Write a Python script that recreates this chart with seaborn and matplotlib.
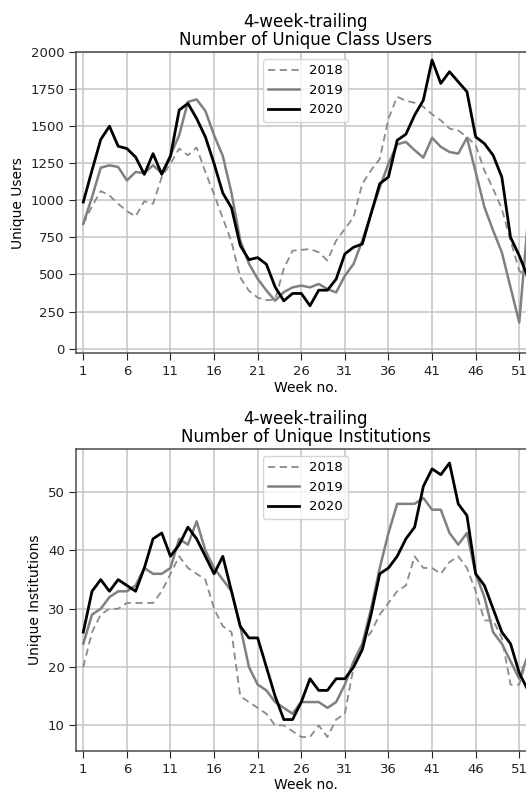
import numpy as np
import pandas as pd
import matplotlib
matplotlib.use("Agg")
import matplotlib.pyplot as plt
import seaborn as sns

weeks = list(range(1, 53))

# unique class users (4-week trailing)
users_2018 = [842, 960, 1063, 1034, 977, 928, 892, 995, 977, 1158,
              1249, 1350, 1305, 1357, 1192, 1040, 880, 720, 480, 390,
              344, 327, 330, 540, 661, 666, 672, 650, 594, 729,
              808, 887, 1113, 1203, 1280, 1553, 1700, 1673, 1659, 1632,
              1582, 1541, 1485, 1473, 1428, 1373, 1203, 1079, 943, 729,
              526, 480]
users_2019 = [842, 1022, 1221, 1237, 1226, 1135, 1192, 1185, 1237, 1185,
              1305, 1440, 1666, 1682, 1605, 1440, 1300, 1050, 730, 573,
              471, 392, 323, 381, 413, 425, 413, 436, 402, 379,
              492, 571, 729, 910, 1087, 1249, 1379, 1395, 1339, 1289,
              1423, 1362, 1327, 1316, 1423, 1192, 955, 797, 650, 413,
              176, 870]
users_2020 = [989, 1203, 1411, 1501, 1366, 1350, 1293, 1176, 1316, 1176,
              1298, 1610, 1655, 1553, 1429, 1249, 1050, 950, 696, 600,
              614, 569, 416, 322, 372, 372, 289, 394, 394, 469,
              639, 684, 706, 910, 1113, 1158, 1406, 1447, 1576, 1677,
              1948, 1790, 1869, 1801, 1734, 1429, 1384, 1305, 1158, 751,
              627, 480]

# unique institutions (4-week trailing)
inst_2018 = [20, 26, 29, 30, 30, 31, 31, 31, 31, 33,
             36, 39, 37, 36, 35, 30, 27, 26, 15, 14,
             13, 12, 10, 10, 9, 8, 8, 10, 8, 11,
             12, 20, 24, 26, 29, 31, 33, 34, 39, 37,
             37, 36, 38, 39, 37, 33, 28, 28, 25, 17,
             17, 22]
inst_2019 = [24, 29, 30, 32, 33, 33, 34, 37, 36, 36,
             37, 42, 41, 45, 40, 37, 35, 33, 27, 20,
             17, 16, 14, 13, 12, 14, 14, 14, 13, 14,
             17, 21, 24, 30, 37, 43, 48, 48, 48, 49,
             47, 47, 43, 41, 43, 36, 32, 26, 24, 21,
             18, 22]
inst_2020 = [26, 33, 35, 33, 35, 34, 33, 37, 42, 43,
             39, 41, 44, 42, 39, 36, 39, 33, 27, 25,
             25, 20, 15, 11, 11, 14, 18, 16, 16, 18,
             18, 20, 23, 29, 36, 37, 39, 42, 44, 51,
             54, 53, 55, 48, 46, 36, 34, 30, 26, 24,
             19, 16]

years = ['2018', '2019', '2020']
colors = {'2018': '#8a8a8a', '2019': '#808080', '2020': '#000000'}
styles = {'2018': (0, (4, 2.5)), '2019': '-', '2020': '-'}
widths = {'2018': 1.3, '2019': 1.8, '2020': 2.0}

font_size = 9.5

fig = plt.figure(figsize=(5.26, 7.89), dpi=100)
ax1 = fig.add_axes([0.1454, 0.5526, 0.8713, 0.3811])
ax2 = fig.add_axes([0.1454, 0.0485, 0.8713, 0.3820])


def draw(ax, series, title, ylabel):
    for yr, vals in zip(years, series):
        df = pd.DataFrame({'week': weeks, 'value': vals})
        sns.lineplot(data=df, x='week', y='value', ax=ax, color=colors[yr],
                     linestyle=styles[yr], linewidth=widths[yr], label=yr)
    ax.grid(True, color='#c4c4c4', linewidth=1.1)
    ax.set_axisbelow(True)
    for s in ax.spines.values():
        s.set_color('#4a4a4a')
        s.set_linewidth(1.1)
    ax.set_xticks(range(1, 53, 5))
    ax.set_xlim(0.22, 52.78)
    ax.tick_params(labelsize=font_size, colors='#222222', length=5, pad=3.5)
    ax.set_xlabel('Week no.', fontsize=10, labelpad=2)
    ax.set_ylabel(ylabel, fontsize=10)
    ax.set_title('4-week-trailing\n' + title, fontsize=12, linespacing=1.05, pad=5)
    ax.legend(loc='upper center', fontsize=font_size, handlelength=2.3)


draw(ax1, [users_2018, users_2019, users_2020], 'Number of Unique Class Users', 'Unique Users')
ax1.set_ylim(-30, 2000)
ax1.set_yticks(range(0, 2001, 250))

draw(ax2, [inst_2018, inst_2019, inst_2020], 'Number of Unique Institutions', 'Unique Institutions')
ax2.set_yticks([10, 20, 30, 40, 50])

fig.savefig('out.png', dpi=100)
